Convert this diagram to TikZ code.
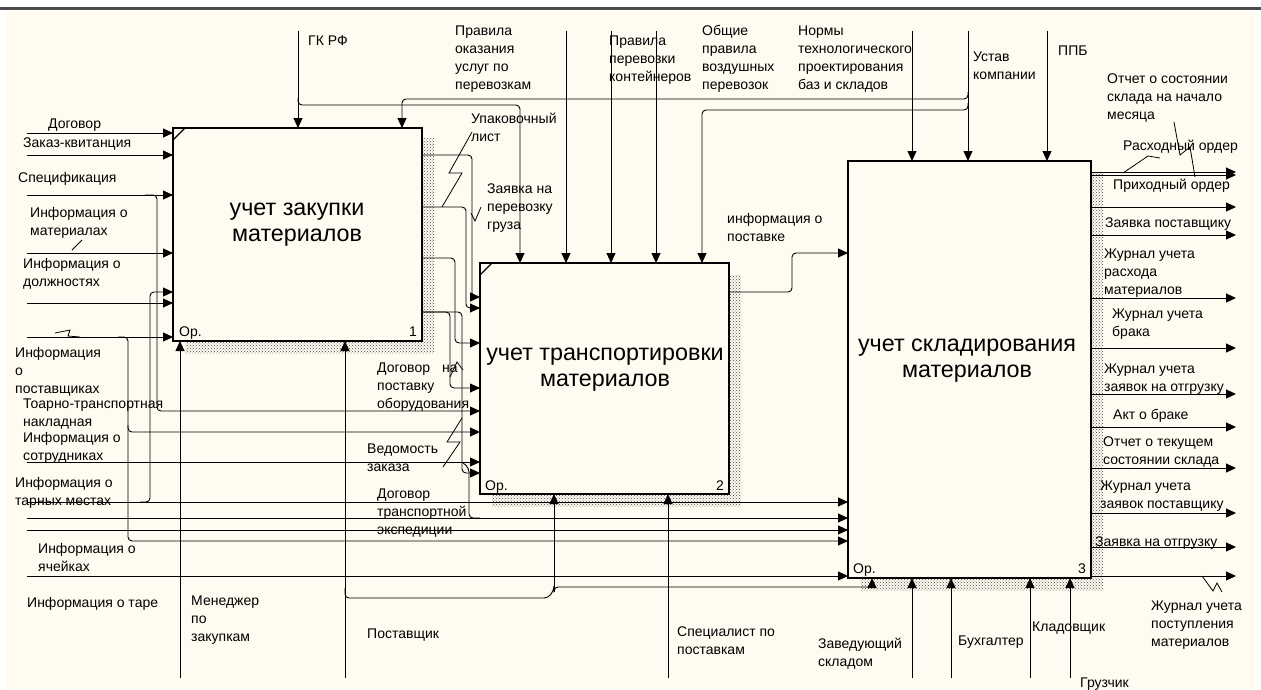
\documentclass[tikz,border=0pt]{standalone}
\usepackage{fontspec}
\setmainfont{Liberation Sans}
\usetikzlibrary{arrows.meta,patterns,calc}
\definecolor{cream}{RGB}{255,251,240}
\begin{document}
\begin{tikzpicture}[x=1pt,y=-1pt,
  ln/.style={line width=0.9pt, rounded corners=4pt},
  arr/.style={ln, -{Triangle[length=10pt,width=9pt]}},
  lbl/.style={font=\fontsize{14}{18}\selectfont, align=left, anchor=base west, inner sep=0pt},
  ttl/.style={font=\fontsize{23.3}{26}\selectfont, align=center, inner sep=0pt},
  proc/.style={draw, line width=2.4pt, fill=cream, inner sep=0pt, outer sep=0pt},
  shd/.style={pattern=crosshatch dots, pattern color=black!70},
  zz/.style={line width=0.8pt}]
\useasboundingbox (0,0) rectangle (1261,689);
\fill[white] (0,0) rectangle (1261,689);
\fill[cream] (6,11) rectangle (1255,689);
\draw[line width=2.5pt, black!70] (0,8.5) -- (1261,8.5);

% shadows
\fill[shd] (185,138) rectangle (434,353);
\fill[shd] (492,275) rectangle (741,506);
\fill[shd] (860,173) rectangle (1103,590);

% boxes
\node[proc, minimum width=249pt, minimum height=213pt] (b1) at (297.5,234.5) {};
\node[proc, minimum width=249pt, minimum height=231pt] (b2) at (604.5,378.5) {};
\node[proc, minimum width=243pt, minimum height=417pt] (b3) at (969.5,369.5) {};
\draw[line width=1.2pt] ($(b1.north west)+(0,12)$) -- ($(b1.north west)+(12,0)$);
\draw[line width=1.2pt] ($(b2.north west)+(0,12)$) -- ($(b2.north west)+(12,0)$);
\node[ttl] (t1) at (297,225) {учет закупки\\материалов};
\node[ttl] (t2) at (605,370) {учет транспортировки\\материалов};
\node[ttl] (t3) at (967,361) {учет складирования\\материалов};
\node[lbl] (o1) at (179,336) {Ор.};
\node[lbl, anchor=base east] (n1) at (417,336) {1};
\node[lbl] (o2) at (485,490) {Ор.};
\node[lbl, anchor=base east] (n2) at (724,490) {2};
\node[lbl] (o3) at (853,573) {Ор.};
\node[lbl, anchor=base east] (n3) at (1086,573) {3};

% controls
\draw[arr] (298,31) -- (b1.north -| 298,0);
\draw[arr] (298,98) -- (298,105) -- (520,105) -- (b2.north -| 520,0);
\draw[arr] (968,31) -- (b3.north -| 968,0);
\draw[arr] (968,92) -- (968,99) -- (402,99) -- (b1.north -| 402,0);
\draw[arr] (968,103) -- (968,110) -- (702,110) -- (b2.north -| 702,0);
\foreach \xx in {566,611,656} \draw[arr] (\xx,31) -- (b2.north -| \xx,0);
\foreach \xx in {912,1047} \draw[arr] (\xx,31) -- (b3.north -| \xx,0);

% inputs box 1
\foreach \yy in {133,155,195,253,303,337} \draw[arr] (27,\yy) -- (b1.west |- 0,\yy);
\draw[arr] (145,195) -- (157,195) -- (157,411) -- (b2.west |- 0,411);
\draw[arr] (140,502) -- (150,502) -- (150,292) -- (b1.west |- 0,292);
\draw[arr] (118,337) -- (128,337) -- (128,541) -- (b3.west |- 0,541);
\draw[arr] (128,425) -- (128,432) -- (b2.west |- 0,432);
\draw[arr] (27,462) -- (b2.west |- 0,462);
\foreach \yy in {502,518,530,576} \draw[arr] (27,\yy) -- (b3.west |- 0,\yy);

% box1 -> box2
\draw[arr] (b1.east |- 0,155) -- (472,155) -- (472,297) -- (b2.west |- 0,297);
\draw[arr] (b1.east |- 0,207) -- (466,207) -- (466,308) -- (b2.west |- 0,308);
\draw[arr] (b1.east |- 0,258) -- (455,258) -- (455,343) -- (b2.west |- 0,343);
\draw[arr] (b1.east |- 0,312) -- (450,312) -- (450,388) -- (b2.west |- 0,388);
\draw[arr] (b1.east |- 0,312) -- (462,312) -- (462,473) -- (b2.west |- 0,473);
\draw[ln] (462,462) -- (469,468) -- (469,518) -- (480,518);

% box2 -> box3
\draw[arr] (b2.east |- 0,292) -- (792,292) -- (792,253) -- (b3.west |- 0,253);

% mechanisms
\draw[arr] (180,678) -- (b1.south -| 180,0);
\draw[arr] (345,678) -- (b1.south -| 345,0);
\draw[arr] (345,588) -- (345,598) -- (548,598) -- (554,590) -- (554,587) -- (872,587) -- (b3.south -| 872,0);
\draw[arr] (554,592) -- (b2.south -| 554,0);
\draw[arr] (668,678) -- (b2.south -| 668,0);
\foreach \xx in {912,951,1030,1070} \draw[arr] (\xx,678) -- (b3.south -| \xx,0);

% outputs box 3
\foreach \yy in {172,175,207,235,298,348,394,427,468,513,547,576} \draw[arr] (b3.east |- 0,\yy) -- (1236,\yy);

% squiggles
\draw[zz] (472,132) -- (449,173) -- (462,173) -- (442,207);
\draw[zz] (471,213) -- (475,221) -- (481,207);
\draw[zz] (1174,122) -- (1180,155) -- (1190,147) -- (1195,177);
\draw[zz] (1123,173) -- (1148,156) -- (1160,158);
\draw[zz] (1202,576) -- (1213,591) -- (1217,583) -- (1222,592);
\draw[zz] (72,250) -- (82,240) -- (76,246);
\draw[zz] (55,333) -- (70,330) -- (68,336) -- (80,337);
\draw[zz] (462,418) -- (447,442) -- (460,442) -- (443,467);
\draw[zz] (450,377) -- (457,362) -- (463,370);

% labels top (base anchor = last line)
\node[lbl] (gk) at (308,45) {ГК РФ};
\node[lbl] (pr1) at (455,89) {Правила\\оказания\\услуг по\\перевозкам};
\node[lbl] (pr2) at (609,81) {Правила\\перевозки\\контейнеров};
\node[lbl] (pr3) at (702,89) {Общие\\правила\\воздушных\\перевозок};
\node[lbl] (nrm) at (798,89) {Нормы\\технологического\\проектирования\\баз и складов};
\node[lbl] (ust) at (973,79) {Устав\\компании};
\node[lbl] (ppb) at (1058,55) {ППБ};
% labels left
\node[lbl] (dog) at (48,128) {Договор};
\node[lbl] (zak) at (23,147) {Заказ-квитанция};
\node[lbl] (spc) at (18,182) {Спецификация};
\node[lbl] (imat) at (30,235) {Информация о\\материалах};
\node[lbl] (idol) at (23,286) {Информация о\\должностях};
\node[lbl] (ipos) at (15,393) {Информация\\о\\поставщиках};
\node[lbl] (ttn) at (23,426) {Тоарно-транспортная\\накладная};
\node[lbl] (isot) at (23,460) {Информация о\\сотрудниках};
\node[lbl] (itar) at (15,505) {Информация о\\тарных местах};
\node[lbl] (iyach) at (38,571) {Информация о\\ячейках};
\node[lbl] (itare) at (27,607) {Информация о таре};
% labels middle
\node[lbl] (upak) at (471,141) {Упаковочный\\лист};
\node[lbl] (zper) at (487,229) {Заявка на\\перевозку\\груза};
\node[lbl] (dpo) at (377,408) {Договор\hspace{12pt}на\\поставку\\оборудования};
\node[lbl] (ved) at (367,471) {Ведомость\\заказа};
\node[lbl] (dte) at (377,534) {Договор\\транспортной\\экспедиции};
\node[lbl] (ipst) at (727,241) {информация о\\поставке};
% labels bottom
\node[lbl] (men) at (191,641) {Менеджер\\по\\закупкам};
\node[lbl] (post) at (367,638) {Поставщик};
\node[lbl] (spec) at (677,654) {Специалист по\\поставкам};
\node[lbl] (zav) at (818,666) {Заведующий\\складом};
\node[lbl] (buh) at (958,645) {Бухгалтер};
\node[lbl] (klad) at (1032,631) {Кладовщик};
\node[lbl] (gruz) at (1080,687) {Грузчик};
% labels right
\node[lbl] (otch1) at (1107,119) {Отчет о состоянии\\склада на начало\\месяца};
\node[lbl] (rash) at (1123,150) {Расходный ордер};
\node[lbl] (prih) at (1113,189) {Приходный ордер};
\node[lbl] (zpost) at (1105,227) {Заявка поставщику};
\node[lbl] (jrm) at (1104,294) {Журнал учета\\расхода\\материалов};
\node[lbl] (jbr) at (1112,336) {Журнал учета\\брака};
\node[lbl] (jzo) at (1104,391) {Журнал учета\\заявок на отгрузку};
\node[lbl] (akt) at (1113,419) {Акт о браке};
\node[lbl] (otch2) at (1103,464) {Отчет о текущем\\состоянии склада};
\node[lbl] (jzp) at (1100,508) {Журнал учета\\заявок поставщику};
\node[lbl] (zotg) at (1095,546) {Заявка на отгрузку};
\node[lbl] (jpm) at (1151,646) {Журнал учета\\поступления\\материалов};
\end{tikzpicture}
\end{document}
